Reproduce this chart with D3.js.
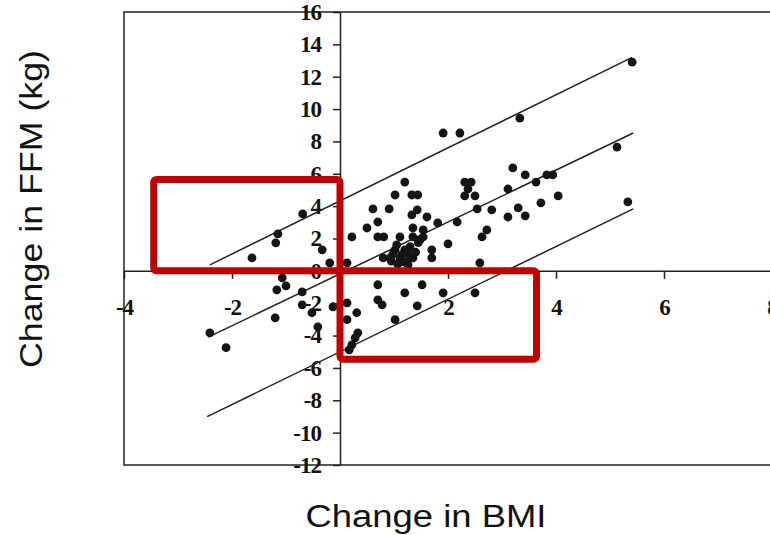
<!DOCTYPE html>
<html>
<head>
<meta charset="utf-8">
<script src="https://cdn.jsdelivr.net/npm/d3@7"></script>
<style>
    body { margin: 0; background: #fff; }
    .title { font-family: "Liberation Sans", Arial, sans-serif; font-size: 31px; fill: #111; }
</style>
</head>
<body>
<svg id="chart" width="770" height="535"></svg>
<script>
// tick labels
var xTicks = [-4, -2, 2, 4, 6, 8];
var yTicks = [-12, -10, -8, -6, -4, -2, 0, 2, 4, 6, 8, 10, 12, 14, 16];

// change in BMI / change in FFM (kg)
var bmi = [5.41, 3.33, 1.91, 2.22, 5.13, 3.20, 3.43, 3.83, 3.94, 3.63,
    2.31, 2.43, 1.20, 2.37, 3.11, 2.31, 2.50, 1.02, 1.33, 1.44,
    4.04, 3.72, 5.33, 0.61, 0.91, 1.43, 2.54, 2.81, 3.30, 1.33,
    1.61, 3.11, 3.43, -0.69, 0.70, 1.81, 2.17, 0.50, 1.35, 1.54,
    2.72, 2.63, -1.15, -1.19, 0.22, 0.70, 0.81, 1.11, 1.35, 1.54,
    2.00, 1.70, -0.33, 1.70, -1.63, 0.80, 1.02, 1.20, 0.93, 1.11,
    1.30, 1.07, 1.26, 1.35, -0.19, 0.13, 2.59, 1.48, -1.07, -1.00,
    -1.17, -0.70, 0.70, 1.52, 1.20, 1.91, 2.50, -0.70, -0.52, -0.13,
    0.13, 0.70, 0.78, 1.43, 0.31, 0.13, 1.02, -1.20, -0.41, 0.33,
    0.28, 0.22, 0.17, -2.41, -2.11, 0.98, 1.15, 1.25, 0.95, 1.18,
    1.30, 1.05, 1.40, 1.45];
var ffm = [12.90, 9.44, 8.52, 8.52, 7.65, 6.36, 5.93, 5.93, 5.93, 5.49,
    5.49, 5.49, 5.49, 5.06, 5.06, 4.63, 4.63, 4.69, 4.69, 4.69,
    4.63, 4.20, 4.26, 3.83, 3.83, 3.77, 3.83, 3.77, 3.89, 3.46,
    3.33, 3.33, 3.40, 3.52, 3.02, 2.96, 3.02, 2.65, 2.65, 2.53,
    2.53, 2.10, 2.28, 1.73, 2.10, 2.10, 2.10, 2.10, 2.10, 2.10,
    1.67, 1.30, 1.30, 0.80, 0.80, 0.80, 1.30, 1.30, 0.80, 0.80,
    0.80, 0.43, 0.37, 0.80, 0.49, 0.49, 0.49, 1.91, -0.43, -0.93,
    -1.17, -1.30, -0.86, -0.86, -1.36, -1.36, -1.36, -2.10, -2.59, -2.22,
    -1.98, -1.79, -2.10, -2.16, -2.59, -3.02, -3.02, -2.90, -3.46, -3.83,
    -4.14, -4.57, -4.88, -3.83, -4.75, 1.05, 1.00, 1.10, 0.60, 0.55,
    1.50, 1.60, 1.15, 1.75];

// regression line and its two limits: start and end points
var lineStart = [[-2.41, 0.37], [-2.44, -4.10], [-2.46, -9.01]];
var lineEnd = [[5.41, 13.20], [5.43, 8.52], [5.43, 3.83]];

// red highlight boxes: [x0, x1, y0, y1] in data units
var boxes = [[-3.45, 0, 0, 5.65], [0, 3.64, -5.46, 0]];

var svg = d3.select("#chart");

var x = d3.scaleLinear().domain([-4, 8]).range([124, 772]);
var y = d3.scaleLinear().domain([-12, 16]).range([465, 12]);

// scan uses a plain hyphen for negatives
var fmt = function(d) { return String(d); };

// frame
svg.append("rect")
    .attr("x", x(-4))
    .attr("y", y(16))
    .attr("width", x(8) - x(-4))
    .attr("height", y(-12) - y(16))
    .attr("fill", "none")
    .attr("stroke", "#222")
    .attr("stroke-width", 1.5);

// axes through the origin
svg.append("g")
    .attr("transform", "translate(" + x(0) + ",0)")
    .call(d3.axisLeft(y).tickValues(yTicks).tickFormat(fmt).tickSize(7).tickSizeOuter(0).tickPadding(12));

svg.append("g")
    .attr("transform", "translate(0," + y(0) + ")")
    .call(d3.axisBottom(x).tickValues(xTicks).tickFormat(fmt).tickSize(8).tickSizeOuter(0).tickPadding(20));

svg.selectAll(".domain, .tick line")
    .attr("stroke", "#222")
    .attr("stroke-width", 1.5);

svg.selectAll(".tick text")
    .style("font-family", "'Liberation Serif', 'DejaVu Serif', serif")
    .style("font-weight", "bold")
    .style("font-size", "23px")
    .style("letter-spacing", "-1px")
    .style("fill", "#111");

// lines
var line = d3.line()
    .x(function(d) { return x(d[0]); })
    .y(function(d) { return y(d[1]); });

svg.append("g").selectAll("path")
    .data(lineStart)
    .enter()
    .append("path")
    .attr("d", function(d, i) { return line([d, lineEnd[i]]); })
    .attr("fill", "none")
    .attr("stroke", "#222")
    .attr("stroke-width", 1.5);

// points
svg.append("g").selectAll("circle")
    .data(bmi)
    .enter()
    .append("circle")
    .attr("cx", function(d) { return x(d); })
    .attr("cy", function(d, i) { return y(ffm[i]); })
    .attr("r", 4.4)
    .attr("fill", "#151515");

// highlight boxes
svg.append("g").selectAll("rect")
    .data(boxes)
    .enter()
    .append("rect")
    .attr("x", function(d) { return x(d[0]); })
    .attr("y", function(d) { return y(d[3]); })
    .attr("width", function(d) { return x(d[1]) - x(d[0]); })
    .attr("height", function(d) { return y(d[2]) - y(d[3]); })
    .attr("rx", 3)
    .attr("fill", "none")
    .attr("stroke", "#c00000")
    .attr("stroke-width", 7);

// titles
svg.append("text")
    .attr("class", "title")
    .attr("x", 426)
    .attr("y", 527)
    .attr("text-anchor", "middle")
    .attr("textLength", 241)
    .attr("lengthAdjust", "spacingAndGlyphs")
    .text("Change in BMI");

svg.append("text")
    .attr("class", "title")
    .attr("transform", "translate(42,209) rotate(-90)")
    .attr("text-anchor", "middle")
    .attr("textLength", 318)
    .attr("lengthAdjust", "spacingAndGlyphs")
    .text("Change in FFM (kg)");
</script>
</body>
</html>
